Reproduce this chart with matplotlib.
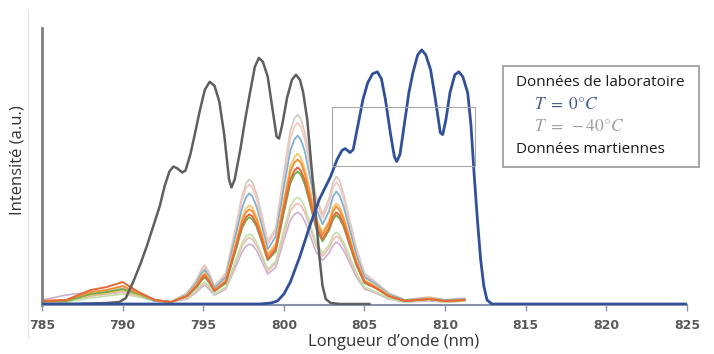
import matplotlib
matplotlib.use("Agg")
import matplotlib.pyplot as plt
from matplotlib.lines import Line2D
from matplotlib.patches import Rectangle

plt.rcParams['font.family'] = ['Open Sans', 'DejaVu Sans']
plt.rcParams['mathtext.fontset'] = 'stix'

# ---------------- data ----------------
x_ticks = [785, 790, 795, 800, 805, 810, 815, 820, 825]

# Laboratory T = -40 C (gray)
lab_cold_nm = [785, 787, 789, 789.8, 790.2, 790.65, 791.1, 791.5, 792.0, 792.3, 792.6, 792.9,
               793.15, 793.4, 793.7, 793.9, 794.2, 794.5, 794.8, 795.1, 795.4, 795.7, 796.0,
               796.3, 796.6, 796.75, 796.95, 797.3, 797.6, 797.9, 798.2, 798.45, 798.7, 799.0,
               799.3, 799.55, 799.7, 799.9, 800.2, 800.5, 800.75, 801.0, 801.2, 801.45, 801.7,
               801.95, 802.2, 802.4, 802.6, 802.9, 803.5, 805.3]
lab_cold_val = [0, 0, 1, 2, 6, 22, 40, 58, 83, 98, 118, 133,
                138, 136, 132, 134, 150, 172, 195, 215, 223, 219, 203,
                170, 125, 117, 125, 155, 185, 212, 238, 247, 243, 228,
                195, 168, 166, 180, 207, 225, 230, 225, 212, 185, 140,
                95, 48, 18, 5, 1, 0, 0]

# Laboratory T = 0 C (blue)
lab_warm_nm = [785, 798.5, 799.2, 799.6, 800.0, 800.4, 801.0, 801.6, 802.2, 802.9, 803.3, 803.6,
               803.8, 804.1, 804.3, 804.6, 804.9, 805.2, 805.5, 805.8, 806.05, 806.3, 806.6,
               806.85, 807.0, 807.2, 807.45, 807.75, 808.0, 808.3, 808.55, 808.8, 809.1, 809.4,
               809.7, 809.85, 810.05, 810.3, 810.6, 810.85, 811.1, 811.4, 811.6, 811.8, 812.0,
               812.2, 812.4, 812.6, 812.9, 825]
lab_warm_val = [0, 0, 1, 3, 10, 22, 48, 78, 105, 128, 145, 154,
                156, 152, 155, 180, 205, 222, 231, 233, 226, 205, 172,
                148, 143, 150, 178, 212, 232, 250, 255, 250, 235, 205,
                172, 170, 185, 212, 230, 233, 228, 212, 180, 130, 85,
                45, 18, 4, 0, 0]

# Martian data (several spectra)
mars_nm = [785, 786.5, 788, 789, 790, 791, 792, 793,
           794, 794.6, 794.9, 795.1, 795.35, 795.7, 796.4, 797.0, 797.4, 797.65, 797.85, 798.05,
           798.3, 798.6, 799.0, 799.5, 800.0, 800.4, 800.65, 800.85, 801.05, 801.3, 801.6, 802.0,
           802.4, 802.8, 803.05, 803.25, 803.45, 803.7, 804.0, 804.5, 805.0, 805.7, 806.5, 807.5,
           809.0, 810.0, 811.2]
mars_beige = [3, 3, 8, 10, 12, 8, 3, 2,
              11, 25, 35, 39, 32, 18, 31, 76, 108, 121, 125, 122, 111, 92, 63, 76, 132, 174, 186,
              190, 186, 172, 146, 108, 90, 106, 122, 128, 124, 111, 90, 56, 31, 22, 11, 4, 7, 4, 6]
mars_lightpink = [2, 3, 10, 12, 16, 10, 4, 2,
                  11, 24, 33, 37, 31, 17, 29, 73, 104, 116, 120, 117, 106, 88, 60, 73, 126, 166, 178,
                  182, 178, 165, 140, 104, 86, 101, 117, 122, 118, 106, 86, 53, 29, 21, 11, 4, 7, 4, 5]
mars_blue = [3, 3, 9, 11, 14, 9, 3, 2,
             10, 22, 31, 34, 28, 16, 27, 68, 96, 107, 111, 108, 98, 81, 55, 68, 117, 154, 165,
             169, 165, 153, 129, 96, 80, 93, 108, 113, 109, 98, 80, 49, 27, 20, 10, 4, 6, 4, 5]
mars_gold = [2, 3, 9, 11, 14, 9, 4, 2,
             9, 20, 28, 31, 25, 14, 24, 61, 86, 96, 99, 97, 88, 73, 50, 61, 105, 138, 147,
             151, 147, 136, 116, 86, 72, 84, 97, 101, 98, 88, 72, 44, 24, 18, 9, 3, 6, 3, 4]
mars_orange = [3, 4, 12, 14, 18, 11, 4, 2,
               8, 19, 27, 30, 24, 14, 23, 58, 83, 92, 95, 93, 85, 70, 48, 58, 101, 133, 142,
               145, 142, 131, 111, 83, 69, 81, 93, 98, 94, 85, 69, 42, 23, 17, 8, 3, 5, 3, 4]
mars_red = [3, 4, 14, 17, 22, 12, 4, 2,
            8, 18, 25, 28, 23, 13, 22, 55, 78, 87, 90, 88, 80, 66, 45, 55, 95, 125, 134,
            137, 134, 124, 105, 78, 65, 76, 88, 92, 89, 80, 65, 40, 22, 16, 8, 3, 5, 3, 4]
mars_green = [3, 3, 10, 12, 15, 10, 4, 2,
              8, 17, 24, 27, 22, 13, 21, 53, 76, 84, 87, 85, 78, 64, 44, 53, 92, 121, 130,
              133, 130, 120, 102, 76, 63, 74, 85, 89, 86, 78, 63, 39, 21, 16, 8, 3, 5, 3, 4]
mars_lightgreen = [2, 2, 6, 8, 10, 7, 3, 2,
                   6, 14, 20, 22, 18, 10, 17, 43, 61, 68, 70, 69, 62, 51, 35, 43, 74, 98, 105,
                   107, 105, 97, 82, 61, 51, 59, 69, 72, 69, 62, 51, 31, 17, 12, 6, 2, 4, 2, 3]
mars_pink = [2, 3, 8, 10, 12, 8, 3, 2,
             6, 13, 19, 21, 17, 10, 16, 41, 58, 64, 67, 65, 59, 49, 33, 41, 70, 93, 99,
             101, 99, 92, 78, 58, 48, 56, 65, 68, 66, 59, 48, 30, 16, 12, 6, 2, 4, 2, 3]
mars_lavender = [4, 9, 12, 14, 18, 11, 4, 2,
                 5, 12, 17, 19, 15, 9, 15, 37, 52, 58, 60, 59, 54, 44, 30, 37, 64, 84, 90,
                 92, 90, 83, 70, 52, 44, 51, 59, 62, 60, 54, 44, 27, 15, 11, 5, 2, 3, 2, 3]

# ---------------- figure ----------------
fig = plt.figure(figsize=(7.14, 3.54), dpi=100)
ax = fig.add_axes([0.0588, 0.1384, 0.9034, 0.7826])

mars_series = [
    (mars_beige, '#d8c9bc', 1.2),
    (mars_lightpink, '#f1c6c0', 1.2),
    (mars_lavender, '#cdb0cf', 1.2),
    (mars_pink, '#f3b9b6', 1.2),
    (mars_lightgreen, '#bfe0a8', 1.2),
    (mars_blue, '#7fb1cf', 1.3),
    (mars_gold, '#fbc46e', 1.3),
    (mars_green, '#6fb04a', 1.4),
    (mars_orange, '#f0923a', 1.4),
    (mars_red, '#e4683c', 1.4),
]
for vals, col, lw in mars_series:
    ax.plot(mars_nm, vals, color=col, lw=lw, zorder=2, solid_joinstyle='round')

ax.plot(lab_cold_nm, lab_cold_val, color='#5f5f5f', lw=1.8, zorder=3, solid_joinstyle='round')
ax.plot(lab_warm_nm, lab_warm_val, color='#30519a', lw=2.0, zorder=4, solid_joinstyle='round')

ax.set_xlim(785, 825)
ax.set_ylim(-1, 277)
ax.set_xticks(x_ticks)
ax.set_yticks([])
for s in ['top', 'right']:
    ax.spines[s].set_visible(False)
ax.spines['left'].set_color('#808080')
ax.spines['left'].set_linewidth(2.0)
ax.spines['bottom'].set_color('#8a93ab')
ax.spines['bottom'].set_linewidth(1.5)
ax.tick_params(axis='x', direction='out', length=4, width=1, color='#8a93ab',
               labelsize=9, labelcolor='#595959', pad=6)
for lbl in ax.get_xticklabels():
    lbl.set_fontfamily('DejaVu Sans')
    lbl.set_fontweight('bold')

ax.set_xlabel('Longueur d\u2019onde (nm)', fontsize=12, color='#333333')
ax.xaxis.set_label_coords((394 - 42) / 645, -0.105)
ax.set_ylabel('Intensit\u00e9 (a.u.)', fontsize=12, color='#333333')
ax.yaxis.set_label_coords((26 - 42) / 645, (305 - 160) / 277)

# thin gray rectangle in plot
fig.add_artist(Rectangle((332 / 714, 1 - 166 / 354), (475 - 332) / 714, (166 - 107) / 354,
                         transform=fig.transFigure, fill=False, ec='#a6a6a6', lw=0.8))
# faint frame line
fig.add_artist(Line2D([28 / 714, 28 / 714], [1 - 10 / 354, 1 - 338 / 354],
                      transform=fig.transFigure, color='#e6e6e6', lw=0.8))

# legend-like text box
fig.add_artist(Rectangle((503 / 714, 1 - 167 / 354), (699 - 503) / 714, (167 - 66) / 354,
                         transform=fig.transFigure, fill=True, fc='white', ec='#a0a0a0', lw=1.3))
fig.text(516 / 714, 1 - 83 / 354, 'Donn\u00e9es de laboratoire', fontsize=11, color='#1a1a1a',
         va='center', ha='left')
fig.text(534 / 714, 1 - 105 / 354, r'$T\ =\ 0\degree C$', fontsize=12.5, color='#3f5b96',
         va='center', ha='left')
fig.text(534 / 714, 1 - 127 / 354, r'$T\ =\ -40\degree C$', fontsize=12.5, color='#9e9e9e',
         va='center', ha='left')
fig.text(516 / 714, 1 - 149 / 354, 'Donn\u00e9es martiennes', fontsize=11, color='#1a1a1a',
         va='center', ha='left')

fig.savefig('out.png', dpi=100)
